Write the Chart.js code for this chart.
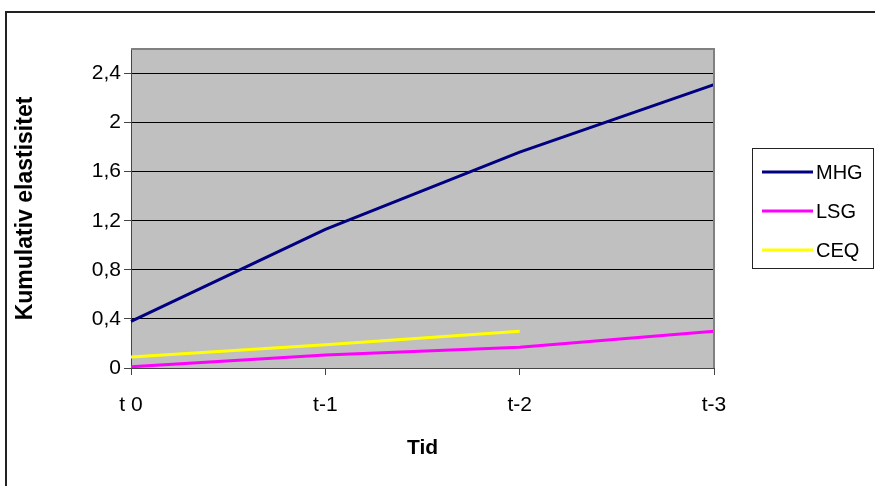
<!DOCTYPE html>
<html>
<head>
<meta charset="utf-8">
<script src="https://cdn.jsdelivr.net/npm/chart.js@4"></script>
<style>
  html, body { margin: 0; padding: 0; background: #fff; }
  #wrap { position: relative; width: 875px; height: 486px; }
</style>
</head>
<body>
<div id="wrap"><canvas id="chart" width="875" height="486"></canvas></div>
<script>
const categories = ["t 0", "t-1", "t-2", "t-3"];
const mhgValues = [0.38, 1.13, 1.76, 2.31];
const lsgValues = [0.01, 0.105, 0.17, 0.30];
const ceqValues = [0.09, 0.19, 0.30, null];
const yTicks = [0, 0.4, 0.8, 1.2, 1.6, 2.0, 2.4];
const seriesNames = ["MHG", "LSG", "CEQ"];
const seriesColors = ["#000080", "#FF00FF", "#FFFF00"];

const FONT = "'Liberation Sans', Arial, sans-serif";

const frame = {
  id: "frame",
  beforeDraw(chart) {
    const { ctx, chartArea: a } = chart;
    ctx.save();
    // outer chart border
    ctx.strokeStyle = "#222";
    ctx.lineWidth = 2;
    ctx.beginPath();
    ctx.moveTo(6, 490);
    ctx.lineTo(6, 12);
    ctx.lineTo(880, 12);
    ctx.stroke();
    // plot area fill
    ctx.fillStyle = "#C0C0C0";
    ctx.fillRect(a.left, a.top, a.right - a.left, a.bottom - a.top);
    ctx.restore();
  },
  afterDatasetsDraw(chart) {
    const { ctx, chartArea: a } = chart;
    ctx.save();
    ctx.strokeStyle = "#808080";
    ctx.lineWidth = 2;
    ctx.beginPath();
    ctx.moveTo(a.left, a.top);
    ctx.lineTo(a.right, a.top);
    ctx.lineTo(a.right, a.bottom);
    ctx.stroke();
    ctx.restore();
  },
  afterDraw(chart) {
    const { ctx } = chart;
    ctx.save();
    // legend box
    ctx.strokeStyle = "#222";
    ctx.lineWidth = 1;
    ctx.strokeRect(752.5, 148.5, 121, 120);
    ctx.font = "20px " + FONT;
    ctx.textBaseline = "middle";
    ctx.fillStyle = "#000";
    const rows = [172, 211, 250];
    chart.data.datasets.forEach((ds, i) => {
      ctx.strokeStyle = ds.borderColor;
      ctx.lineWidth = 3;
      ctx.beginPath();
      ctx.moveTo(762, rows[i]);
      ctx.lineTo(813, rows[i]);
      ctx.stroke();
      ctx.fillText(ds.label, 816, rows[i] + 1);
    });
    ctx.restore();
  }
};

const seriesData = [mhgValues, lsgValues, ceqValues];

new Chart(document.getElementById("chart"), {
  type: "line",
  data: {
    labels: categories,
    datasets: seriesNames.map((name, i) => ({
      label: name,
      data: seriesData[i],
      borderColor: seriesColors[i],
      backgroundColor: seriesColors[i],
      borderWidth: 3,
      pointRadius: 0,
      tension: 0,
      fill: false,
    })),
  },
  options: {
    responsive: false,
    animation: false,
    layout: { padding: { left: 0, right: 161, top: 49, bottom: 0 } },
    plugins: {
      legend: { display: false },
      tooltip: { enabled: false },
    },
    scales: {
      x: {
        offset: false,
        afterFit: (scale) => { scale.height = 118; },
        grid: {
          drawOnChartArea: false,
          drawTicks: true,
          tickLength: 7,
          color: "#444",
        },
        border: { color: "#444", width: 1 },
        ticks: {
          color: "#000",
          padding: 18,
          maxRotation: 0,
          font: { family: FONT, size: 21 },
        },
        title: {
          display: true,
          text: "Tid",
          color: "#000",
          font: { family: FONT, size: 21, weight: "bold" },
          padding: { top: 0, bottom: 25 },
        },
      },
      y: {
        min: 0,
        max: 2.6,
        afterFit: (scale) => { scale.width = 131; },
        afterBuildTicks: (scale) => { scale.ticks = yTicks.map((v) => ({ value: v })); },
        grid: {
          color: "#000",
          lineWidth: 1,
          tickLength: 7,
          tickColor: "#444",
        },
        border: { color: "#444", width: 1 },
        ticks: {
          color: "#000",
          padding: 3,
          font: { family: FONT, size: 21 },
          callback: (v) => String(Number(v.toFixed(1))).replace(".", ","),
        },
        title: {
          display: true,
          text: "Kumulativ elastisitet",
          color: "#000",
          font: { family: FONT, size: 23, weight: "bold" },
          padding: { top: 12, bottom: 0 },
        },
      },
    },
  },
  plugins: [frame],
});
</script>
</body>
</html>
